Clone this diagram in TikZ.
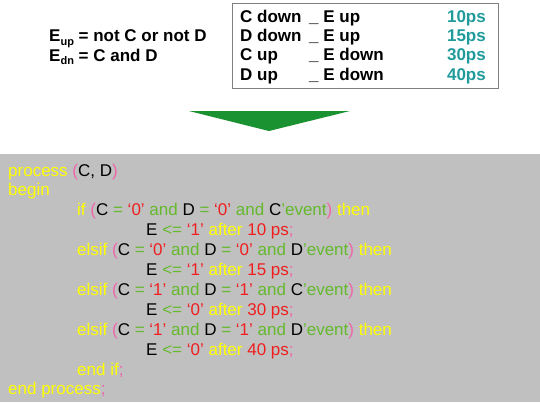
\documentclass[tikz,border=0pt]{standalone}
\usepackage{fontspec}
\setmainfont{Liberation Sans}
\definecolor{kwyel}{RGB}{255,255,0}
\definecolor{kwpink}{RGB}{240,100,170}
\definecolor{kwgreen}{RGB}{100,185,45}
\definecolor{kwred}{RGB}{240,30,30}
\definecolor{teal2}{RGB}{32,155,155}
\definecolor{arrgreen}{RGB}{26,146,50}
\definecolor{codebg}{RGB}{192,192,192}
\newcommand\ky[1]{\textcolor{kwyel}{#1}}
\newcommand\kp[1]{\textcolor{kwpink}{#1}}
\newcommand\kg[1]{\textcolor{kwgreen}{#1}}
\newcommand\kr[1]{\textcolor{kwred}{#1}}
\newcommand\subx[1]{\raisebox{-3.5pt}{\fontsize{11}{11}\selectfont #1}}
\begin{document}
\begin{tikzpicture}[x=1pt,y=-1pt,
  txt/.style={inner sep=0pt,anchor=base west,font=\fontsize{17}{20}\selectfont\bfseries},
  code/.style={inner sep=0pt,anchor=base west,font=\fontsize{17}{20}\selectfont},
  ps/.style={inner sep=0pt,anchor=base east,font=\fontsize{17}{20}\selectfont\bfseries,text=teal2}]
\useasboundingbox (0,0) rectangle (540,402);
% equations
\node[txt] (eup) at (49,41.5) {E\subx{up} = not C or not D};
\node[txt] (edn) at (49,61) {E\subx{dn} = C and D};
% table box
\draw[draw=gray,line width=1pt] (232,3) rectangle (498,88);
\node[txt] (r1a) at (240,22) {C down};
\node[txt] (r1b) at (309,22) {\_ E up};
\node[ps] (r1c) at (486,22) {10ps};
\node[txt] (r2a) at (240,41.3) {D down};
\node[txt] (r2b) at (309,41.3) {\_ E up};
\node[ps] (r2c) at (486,41.3) {15ps};
\node[txt] (r3a) at (240,60.6) {C up};
\node[txt] (r3b) at (309,60.6) {\_ E down};
\node[ps] (r3c) at (486,60.6) {30ps};
\node[txt] (r4a) at (240,80) {D up};
\node[txt] (r4b) at (309,80) {\_ E down};
\node[ps] (r4c) at (486,80) {40ps};
% arrow
\fill[arrgreen] (189,111) -- (350,111) -- (269,131) -- cycle;
% code box
\fill[codebg] (0,154) rectangle (540,402);
\node[code] (l0) at (8,176) {\ky{process} \kp{(}C, D\kp{)}};
\node[code] (l1) at (8,195.9) {\ky{begin}};
\node[code] (l2) at (77,215.8) {\ky{if} \kp{(}C \kg{=} \kr{‘0’} \kg{and} D \kg{=} \kr{‘0’} \kg{and} C\kg{’event}\kp{)} \ky{then}};
\node[code] (l3) at (146,235.7) {E \kg{<=} \kr{‘1’} \ky{after} \kr{10 ps}\kp{;}};
\node[code] (l4) at (77,255.6) {\ky{elsif} \kp{(}C \kg{=} \kr{‘0’} \kg{and} D \kg{=} \kr{‘0’} \kg{and} D\kg{’event}\kp{)} \ky{then}};
\node[code] (l5) at (146,275.5) {E \kg{<=} \kr{‘1’} \ky{after} \kr{15 ps}\kp{;}};
\node[code] (l6) at (77,295.4) {\ky{elsif} \kp{(}C \kg{=} \kr{‘1’} \kg{and} D \kg{=} \kr{‘1’} \kg{and} C\kg{’event}\kp{)} \ky{then}};
\node[code] (l7) at (146,315.3) {E \kg{<=} \kr{‘0’} \ky{after} \kr{30 ps}\kp{;}};
\node[code] (l8) at (77,335.2) {\ky{elsif} \kp{(}C \kg{=} \kr{‘1’} \kg{and} D \kg{=} \kr{‘1’} \kg{and} D\kg{’event}\kp{)} \ky{then}};
\node[code] (l9) at (146,355.1) {E \kg{<=} \kr{‘0’} \ky{after} \kr{40 ps}\kp{;}};
\node[code] (l10) at (77,375) {\ky{end if}\kp{;}};
\node[code] (l11) at (8,394.9) {\ky{end process}\kp{;}};
\end{tikzpicture}
\end{document}
